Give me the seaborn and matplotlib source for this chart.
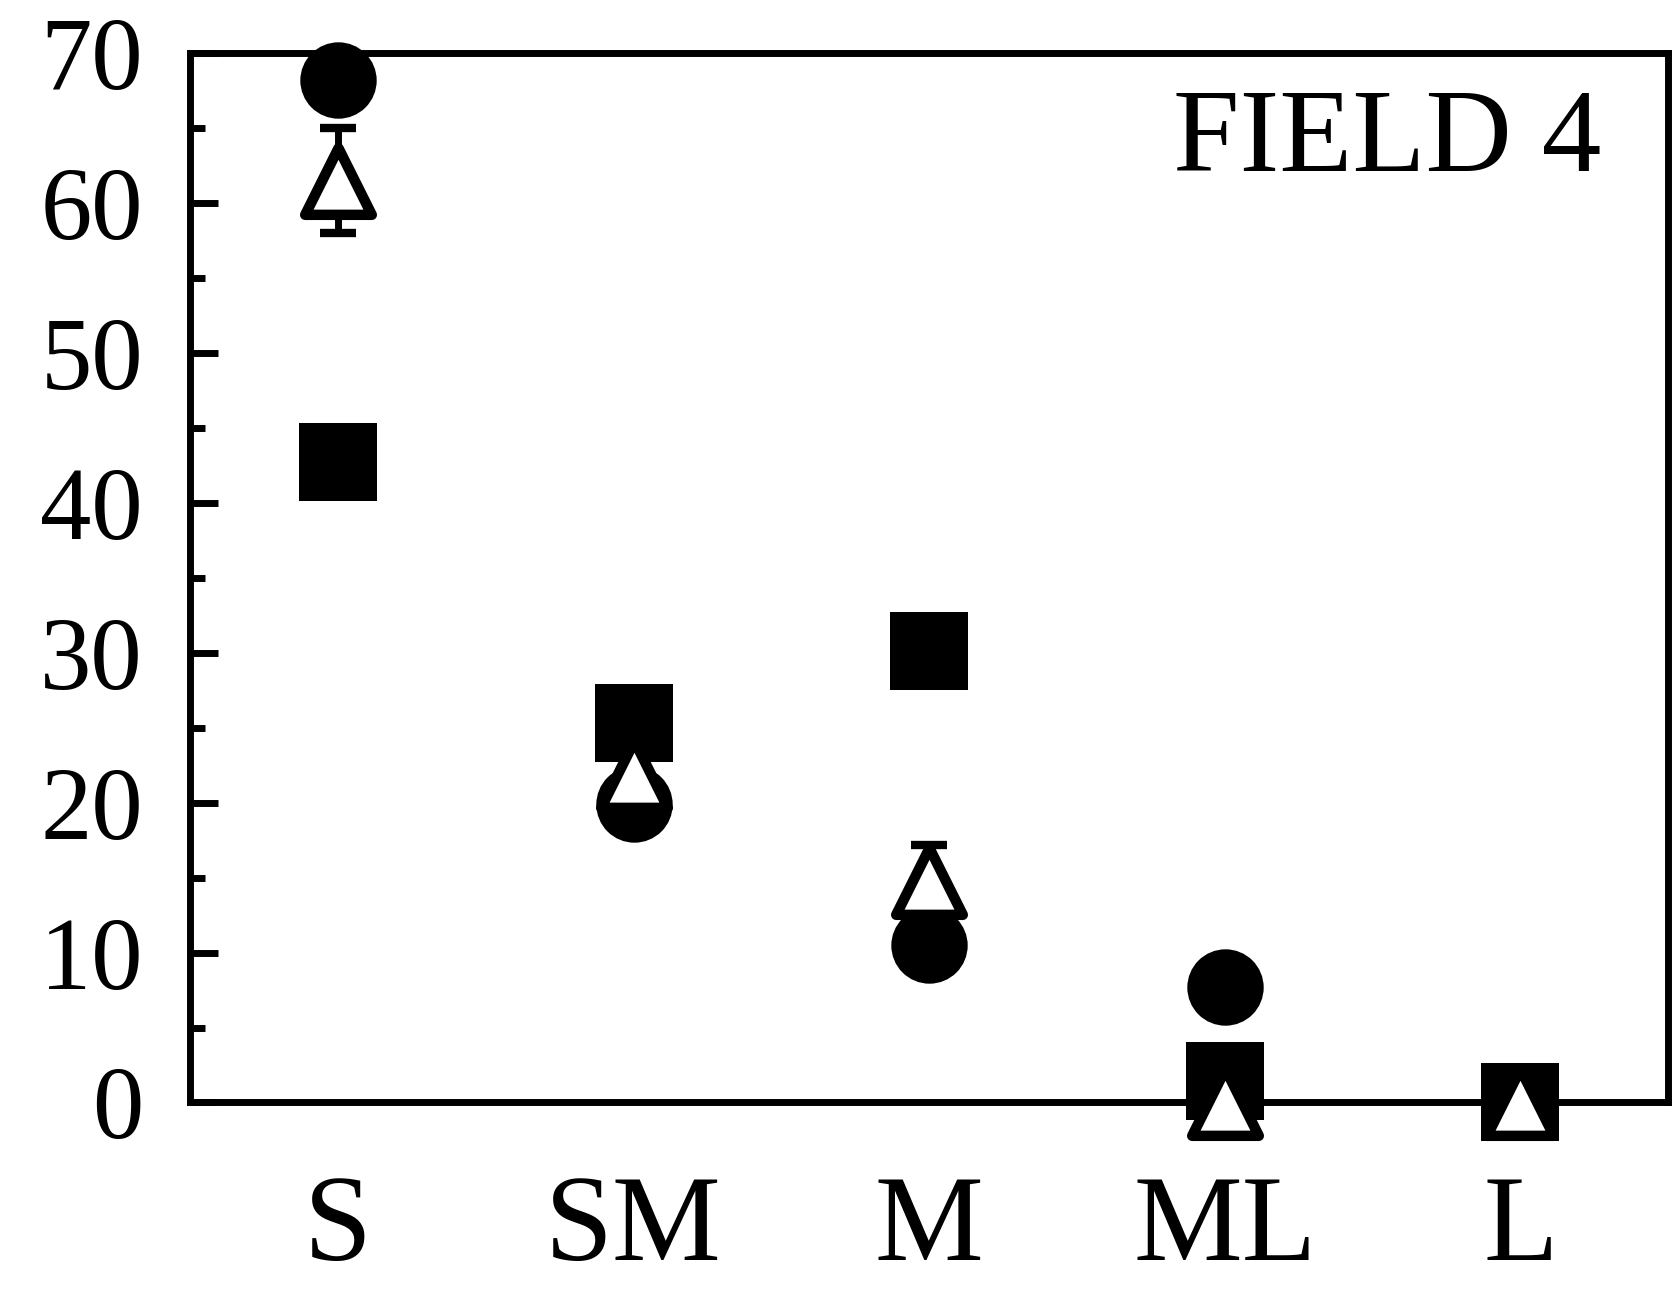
import matplotlib
matplotlib.use("Agg")
import matplotlib.pyplot as plt
from matplotlib.ticker import MultipleLocator
import pandas as pd
import seaborn as sns

# size classes on the x axis
sizes = ['S', 'SM', 'M', 'ML', 'L']

# values (three series, filled circle / filled square / open triangle)
circle_vals = [68.2, 19.9, 10.5, 7.7, 0.0]
square_vals = [42.7, 25.3, 30.1, 1.4, 0.0]
triangle_vals = [61.5, 21.9, 14.8, 0.0, 0.0]
triangle_err = [3.5, 0.0, 2.4, 0.0, 0.0]

yticks = [0, 10, 20, 30, 40, 50, 60, 70]
panel_label = 'FIELD 4'

df = pd.DataFrame({'size': sizes, 'circle': circle_vals,
                   'square': square_vals, 'triangle': triangle_vals,
                   'err': triangle_err})
df['x'] = range(len(sizes))

sns.set_style('ticks')
plt.rcParams['font.family'] = ['Liberation Serif', 'DejaVu Serif']
plt.rcParams['text.color'] = 'black'
plt.rcParams['xtick.color'] = 'black'
plt.rcParams['ytick.color'] = 'black'

fig = plt.figure(figsize=(16.75, 12.97), dpi=100)
ax = fig.add_axes([0.1135, 0.150, 0.8825, 0.809])

# filled circles
sns.scatterplot(data=df, x='x', y='circle', marker='o', s=55**2, color='black',
                edgecolor='black', linewidth=0, ax=ax, zorder=3, clip_on=False)
# filled squares
sns.scatterplot(data=df, x='x', y='square', marker='s', s=56**2, color='black',
                edgecolor='black', linewidth=0, ax=ax, zorder=4, clip_on=False)
# error bars on triangles
err_df = df[df['err'] > 0]
ax.errorbar(err_df['x'], err_df['triangle'], yerr=err_df['err'], fmt='none',
            ecolor='black', elinewidth=5, capsize=13, capthick=6, zorder=5)
# open triangles
sns.scatterplot(data=df, x='x', y='triangle', marker='^', s=48**2, color='white',
                edgecolor='black', linewidth=7.5, ax=ax, zorder=6, clip_on=False)

ax.set_xlim(-0.5, 4.5)
ax.set_ylim(0, 70)
ax.set_xticks(range(len(sizes)))
ax.set_xticklabels(sizes)
ax.set_yticks(yticks)
ax.yaxis.set_minor_locator(MultipleLocator(5))
ax.set_xlabel('')
ax.set_ylabel('')

for side in ['top', 'bottom', 'left', 'right']:
    ax.spines[side].set_visible(True)
    ax.spines[side].set_linewidth(5)
    ax.spines[side].set_color('black')

ax.tick_params(axis='y', which='major', direction='in', length=20, width=5,
               labelsize=74, pad=34)
ax.tick_params(axis='y', which='minor', direction='in', length=11, width=5)
ax.tick_params(axis='x', which='major', length=0, labelsize=88, pad=52)

ax.text(0.955, 0.888, panel_label, transform=ax.transAxes, ha='right',
        va='baseline', fontsize=86)

fig.savefig('out.png', dpi=100, facecolor='white')
